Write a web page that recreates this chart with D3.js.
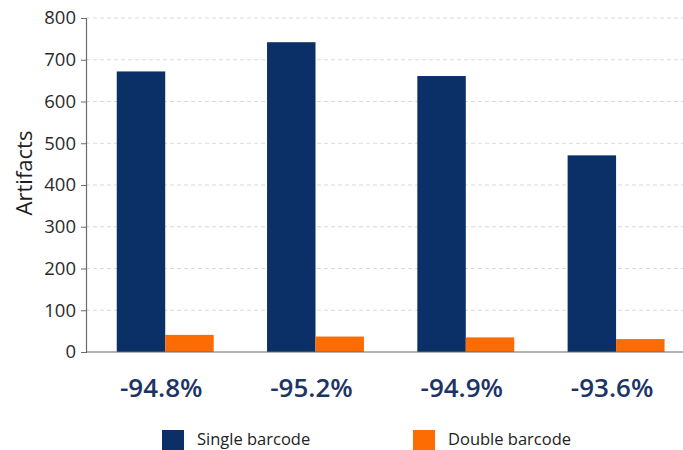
<!DOCTYPE html>
<html>
<head>
<meta charset="utf-8">
<script src="https://cdn.jsdelivr.net/npm/d3@7"></script>
<style>
  html, body { margin: 0; padding: 0; background: #ffffff; }
  svg { display: block; font-family: "Open Sans", "Noto Sans", sans-serif; }
</style>
</head>
<body>
<svg id="chart" width="683" height="450"></svg>
<script>
// Artifact counts per run, with and without double barcoding
const runs = ["-94.8%", "-95.2%", "-94.9%", "-93.6%"];
const singleBarcode = [672, 742, 661, 471];
const doubleBarcode = [41, 37, 35, 31];
const seriesNames = ["Single barcode", "Double barcode"];
const seriesColors = ["#0a3067", "#fd6b03"];
const yTicks = [0, 100, 200, 300, 400, 500, 600, 700, 800];

const svg = d3.select("#chart");
const W = 683, H = 450;
const axisX = 86, baseY = 352, topY = 18;

const y = d3.scaleLinear().domain([0, 800]).range([baseY, topY]);

const x0 = d3.scaleBand()
  .domain(runs)
  .range([89.7, 691.6])
  .paddingInner(0.355)
  .paddingOuter(0.18);

const x1 = d3.scaleBand()
  .domain(seriesNames)
  .range([0, x0.bandwidth()])
  .padding(0);

// dashed grid lines
svg.append("g")
  .selectAll("line")
  .data(yTicks.filter(d => d > 0))
  .join("line")
  .attr("x1", axisX).attr("x2", W)
  .attr("y1", d => y(d)).attr("y2", d => y(d))
  .attr("stroke", "#d9d9d9")
  .attr("stroke-width", 1)
  .attr("stroke-dasharray", "4,3");

// y axis
const yAxis = svg.append("g")
  .attr("transform", `translate(${axisX},0)`)
  .call(d3.axisLeft(y).tickValues(yTicks).tickSize(5).tickPadding(5));
yAxis.select(".domain").attr("stroke", "#6b6b6b").attr("stroke-width", 1.2);
yAxis.selectAll(".tick line").attr("stroke", "#6b6b6b");
yAxis.selectAll(".tick text")
  .attr("fill", "#2b2b2b")
  .style("font-size", "18.5px")
  .style("font-family", "\"Open Sans\", sans-serif");

// y label
svg.append("text")
  .attr("transform", `translate(32,173) rotate(-90)`)
  .attr("text-anchor", "middle")
  .attr("fill", "#1e1e1e")
  .style("font-size", "22px")
  .text("Artifacts");

// bars
const rows = runs.map((r, i) => ({ run: r, values: [singleBarcode[i], doubleBarcode[i]] }));
const groups = svg.append("g")
  .selectAll("g")
  .data(rows)
  .join("g")
  .attr("transform", d => `translate(${x0(d.run)},0)`);

groups.selectAll("rect")
  .data(d => d.values.map((v, k) => ({ key: seriesNames[k], value: v, k })))
  .join("rect")
  .attr("x", d => x1(d.key))
  .attr("y", d => y(d.value))
  .attr("width", x1.bandwidth())
  .attr("height", d => baseY - y(d.value))
  .attr("fill", d => seriesColors[d.k]);

// x baseline
svg.append("line")
  .attr("x1", axisX).attr("x2", W)
  .attr("y1", baseY).attr("y2", baseY)
  .attr("stroke", "#6b6b6b").attr("stroke-width", 1.2);

// category labels
svg.append("g")
  .selectAll("text")
  .data(runs)
  .join("text")
  .attr("x", d => x0(d) + x0.bandwidth() / 2 - 4)
  .attr("y", 397)
  .attr("text-anchor", "middle")
  .attr("fill", "#1c3564")
  .style("font-size", "26px")
  .style("font-weight", "600")
  .text(d => d);

// legend
const legendX = [162, 413];
const legend = svg.append("g")
  .selectAll("g")
  .data(seriesNames)
  .join("g")
  .attr("transform", (d, i) => `translate(${legendX[i]},430)`);
legend.append("rect")
  .attr("width", 22).attr("height", 22)
  .attr("fill", (d, i) => seriesColors[i]);
legend.append("text")
  .attr("x", 35).attr("y", 15)
  .attr("fill", "#222222")
  .style("font-size", "16.5px")
  .text(d => d);
</script>
</body>
</html>
